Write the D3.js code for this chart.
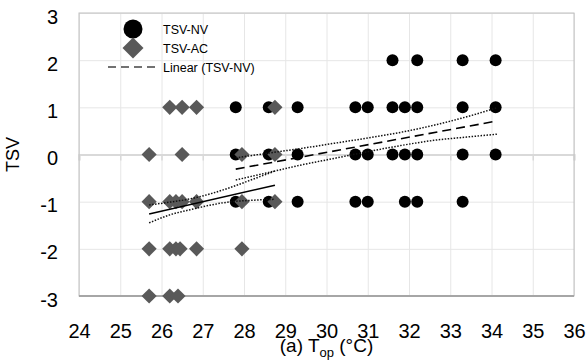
<!DOCTYPE html>
<html>
<head>
    <meta charset="utf-8">
    <title>TSV vs Top</title>
    <style type="text/css">
    body { margin: 0; background: #fff; }
    text { font-family: "Liberation Sans", Arial, sans-serif; }
    </style>
</head>
<body>

    <script src="https://d3js.org/d3.v7.min.js"></script>
    <script>
      // ---- data ----
      // naturally ventilated (TSV-NV): operative temperature and vote
      var nvTemp = [31.6, 32.2, 33.3, 34.1,
                    27.8, 28.6, 29.3, 30.7, 31.0, 31.6, 31.9, 32.2, 33.3, 34.1,
                    27.8, 28.6, 29.3, 30.7, 31.0, 31.6, 31.9, 32.2, 33.3, 34.1,
                    27.8, 28.6, 29.3, 30.7, 31.0, 31.9, 32.2, 33.3];
      var nvVote = [2, 2, 2, 2,
                    1, 1, 1, 1, 1, 1, 1, 1, 1, 1,
                    0, 0, 0, 0, 0, 0, 0, 0, 0, 0,
                    -1, -1, -1, -1, -1, -1, -1, -1];

      // air conditioned (TSV-AC)
      var acTemp = [26.2, 26.5, 26.85, 28.75,
                    25.7, 26.5, 27.95, 28.75,
                    25.7, 26.2, 26.35, 26.5, 26.85, 27.95, 28.75,
                    25.7, 26.2, 26.35, 26.45, 26.85, 27.95,
                    25.7, 26.2, 26.4];
      var acVote = [1, 1, 1, 1,
                    0, 0, 0, 0,
                    -1, -1, -1, -1, -1, -1, -1,
                    -2, -2, -2, -2, -2, -2,
                    -3, -3, -3];

      // trend lines and their bands, [temp, TSV]
      var acFit   = [[25.7, -1.26], [28.75, -0.65]];
      var acUpper = [[25.7, -1.07], [26.2, -1.01], [26.7, -0.94], [27.2, -0.83], [27.7, -0.69], [28.2, -0.53], [28.75, -0.35]];
      var acLower = [[25.7, -1.45], [26.2, -1.28], [26.7, -1.17], [27.2, -1.07], [27.7, -1.00], [28.2, -0.97], [28.75, -0.95]];
      var nvFit   = [[27.8, -0.31], [34.13, 0.71]];
      var nvUpper = [[27.8, -0.07], [28.6, 0.03], [29.4, 0.13], [30.2, 0.24], [31.0, 0.35], [31.8, 0.47], [32.6, 0.62], [33.4, 0.80], [34.13, 0.99]];
      var nvLower = [[27.8, -0.54], [28.6, -0.38], [29.4, -0.22], [30.2, -0.08], [31.0, 0.06], [31.8, 0.19], [32.6, 0.30], [33.4, 0.37], [34.13, 0.43]];

      var xTicks = [24, 25, 26, 27, 28, 29, 30, 31, 32, 33, 34, 35, 36];
      var yTicks = [-3, -2, -1, 0, 1, 2, 3];
      var legendLabels = ["TSV-NV", "TSV-AC", "Linear (TSV-NV)"];

      var margin = {top:13, right:12, bottom:65, left:79},
          width  = 586 - margin.left - margin.right,
          height = 361 - margin.top - margin.bottom;

      var svg = d3.select("body")
          .append("svg")
          .attr("width", 586)
          .attr("height", 361);

      var chart = svg.append("g")
          .attr("transform", "translate(" + margin.left + "," + margin.top + ")");

      var xScale = d3.scaleLinear().domain([24, 36]).range([0, width]);
      var yScale = d3.scaleLinear().domain([-3, 3]).range([height, 0]);

      // gridlines
      chart.append("g")
          .attr("transform", "translate(0," + height + ")")
          .call(d3.axisBottom(xScale).tickValues(xTicks).tickSize(-height).tickFormat(""))
          .call(function(g){ g.select(".domain").remove(); })
          .selectAll("line").attr("stroke", "#e6e6e6");
      chart.append("g")
          .call(d3.axisLeft(yScale).tickValues(yTicks).tickSize(-width).tickFormat(""))
          .call(function(g){ g.select(".domain").remove(); })
          .selectAll("line").attr("stroke", "#e6e6e6");

      // horizontal axis crossing at 0, with small ticks
      chart.append("g")
          .attr("transform", "translate(0," + yScale(0) + ")")
          .call(d3.axisBottom(xScale).tickValues(xTicks).tickSize(6).tickFormat(""))
          .call(function(g){
              g.select(".domain").attr("stroke", "#d9d9d9").attr("stroke-width", 2);
              g.selectAll("line").attr("stroke", "#d9d9d9").attr("stroke-width", 1.5);
          });

      // plot frame
      chart.append("rect")
          .attr("width", width).attr("height", height)
          .attr("fill", "none").attr("stroke", "#c0c0c0");
      chart.append("line")
          .attr("x1", 0).attr("x2", width)
          .attr("y1", height).attr("y2", height)
          .attr("stroke", "#a6a6a6").attr("stroke-width", 2);

      // tick labels
      chart.append("g")
          .attr("transform", "translate(0," + height + ")")
          .call(d3.axisBottom(xScale).tickValues(xTicks).tickSize(0).tickPadding(28))
          .call(function(g){ g.select(".domain").remove(); })
          .selectAll("text")
          .attr("font-family", "Liberation Sans, Arial, sans-serif")
          .attr("font-size", "20px")
          .attr("fill", "#000");
      chart.append("g")
          .call(d3.axisLeft(yScale).tickValues(yTicks).tickSize(0).tickPadding(21)
              .tickFormat(function(d){ return String(d); }))
          .call(function(g){ g.select(".domain").remove(); })
          .selectAll("text")
          .attr("font-family", "Liberation Sans, Arial, sans-serif")
          .attr("font-size", "20px")
          .attr("dy", "0.5em")
          .attr("fill", "#000");

      // markers
      var nv = nvTemp.map(function(t, i){ return [t, nvVote[i]]; });
      var ac = acTemp.map(function(t, i){ return [t, acVote[i]]; });

      chart.selectAll(".nv")
          .data(nv)
          .enter()
          .append("circle")
          .attr("class", "nv")
          .attr("cx", function(d){ return xScale(d[0]); })
          .attr("cy", function(d){ return yScale(d[1]); })
          .attr("r", 6)
          .attr("fill", "#000");

      var diamond = d3.symbol().type(d3.symbolSquare).size(115);
      chart.selectAll(".ac")
          .data(ac)
          .enter()
          .append("path")
          .attr("class", "ac")
          .attr("d", diamond)
          .attr("transform", function(d){ return "translate(" + xScale(d[0]) + "," + yScale(d[1]) + ") rotate(45)"; })
          .attr("fill", "#595959");

      // trend lines
      var line = d3.line()
          .x(function(d){ return xScale(d[0]); })
          .y(function(d){ return yScale(d[1]); })
          .curve(d3.curveMonotoneX);

      [acUpper, acLower, nvUpper, nvLower].forEach(function(band){
          chart.append("path")
              .attr("d", line(band))
              .attr("fill", "none")
              .attr("stroke", "#111")
              .attr("stroke-width", 1.5)
              .attr("stroke-dasharray", "1.5,1.5");
      });
      chart.append("path")
          .attr("d", line(acFit))
          .attr("fill", "none")
          .attr("stroke", "#000")
          .attr("stroke-width", 1.6);
      chart.append("path")
          .attr("d", line(nvFit))
          .attr("fill", "none")
          .attr("stroke", "#000")
          .attr("stroke-width", 1.6)
          .attr("stroke-dasharray", "9,5");

      // legend
      var legend = svg.append("g").attr("transform", "translate(133,29)");
      legend.append("circle").attr("cx", 0).attr("cy", 0).attr("r", 9.5).attr("fill", "#000");
      legend.append("path")
          .attr("d", d3.symbol().type(d3.symbolSquare).size(220))
          .attr("transform", "translate(0,19) rotate(45)")
          .attr("fill", "#595959");
      legend.append("line")
          .attr("x1", -25).attr("x2", 24)
          .attr("y1", 38).attr("y2", 38)
          .attr("stroke", "#444").attr("stroke-width", 1.5)
          .attr("stroke-dasharray", "8,5");
      legend.selectAll(".lt")
          .data(legendLabels)
          .enter()
          .append("text")
          .attr("class", "lt")
          .attr("x", 30)
          .attr("y", function(d, i){ return i * 19; })
          .attr("dy", "0.36em")
          .attr("font-size", "12.5px")
          .attr("fill", "#000")
          .text(function(d){ return d; });

      // axis titles
      var xt = svg.append("text")
          .attr("x", margin.left + width / 2)
          .attr("y", 352)
          .attr("text-anchor", "middle")
          .attr("font-size", "19px")
          .attr("fill", "#000");
      xt.append("tspan").text("(a) T");
      xt.append("tspan").attr("font-size", "13px").attr("dy", 5).text("op");
      xt.append("tspan").attr("dy", -5).text(" (°C)");

      svg.append("text")
          .attr("transform", "translate(19," + (margin.top + height / 2) + ") rotate(-90)")
          .attr("text-anchor", "middle")
          .attr("font-size", "18px")
          .attr("fill", "#000")
          .text("TSV");
    </script>
</body>
</html>
